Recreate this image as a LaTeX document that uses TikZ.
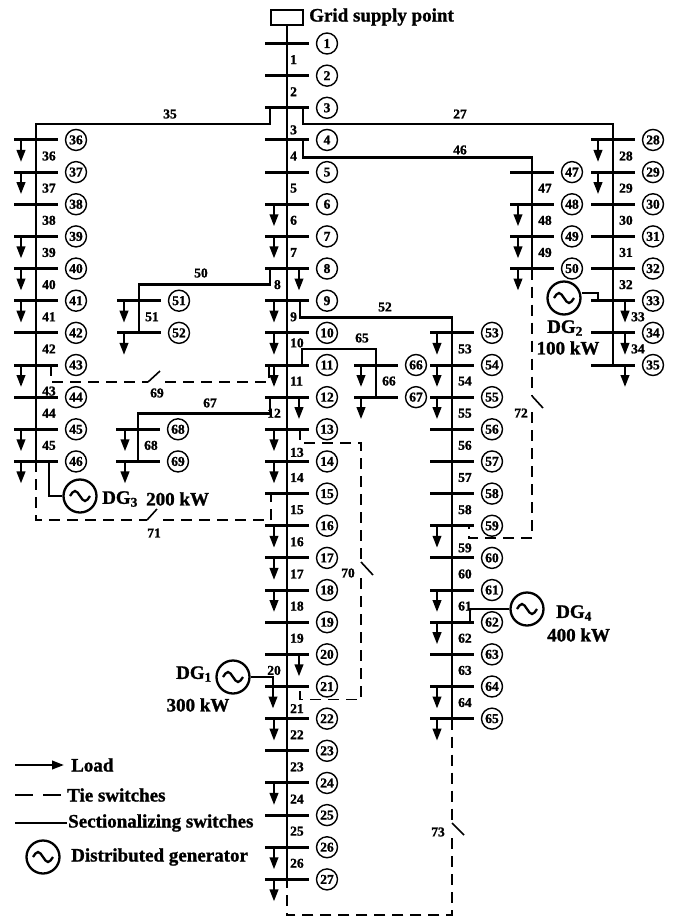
\documentclass[tikz,border=0pt]{standalone}
\usepackage{fontspec}
\setmainfont{Liberation Serif}[BoldFont={Liberation Serif Bold},BoldFeatures={FakeBold=1.2}]
\usetikzlibrary{arrows.meta,calc}

\begin{document}
\begin{tikzpicture}[x=1pt,y=-1pt,
		line/.style={line width=2.8pt},
		bar/.style={line width=3pt},
		tie/.style={line width=1.9pt,dash pattern=on 11pt off 7pt},
		blade/.style={line width=1.6pt},
		load/.style={line width=2.3pt,-{Triangle[length=12pt,width=8.5pt]}},
		busno/.style={circle,draw,line width=1.4pt,minimum size=21pt,inner sep=0pt,font=\fontsize{13.5}{14}\selectfont\bfseries},
		num/.style={inner sep=1pt,font=\fontsize{13.5}{14}\selectfont\bfseries},
		big/.style={inner sep=1pt,font=\fontsize{19}{20}\selectfont\bfseries},
		dg/.style={circle,draw,line width=2.3pt,minimum size=33pt,inner sep=0pt},
		wave/.style={line width=2.3pt}]
	\useasboundingbox (0,0) rectangle (673,919);

	% buses: first/last/x of feeder/row offset
	\foreach \first/\last/\xx/\off in {1/27/287/0,28/35/613/24,36/46/36/32,47/50/532/42,51/52/139/42,53/65/452/43,66/67/376/55,68/69/138/55}
		\foreach \i in {\first,...,\last} {
			\coordinate (b\i) at (\xx,{43.5+(\i-\off-1)*32.15});
			\draw[bar] ([xshift=-22pt]b\i) -- ([xshift=22pt]b\i);
			\node[busno] (n\i) at ([xshift=40pt]b\i) {\i};
		}

	% grid supply point and feeders
	\node[draw,line width=2pt,minimum width=32pt,minimum height=15pt,inner sep=0pt] (gsp) at (287,17.5) {};
	\node[big,anchor=west] (gsptext) at (308,17) {Grid supply point};
	\draw[line] (gsp) -- (b27);
	\draw[line] ([xshift=-17pt]b3) |- ([yshift=16pt]b36) -- (b46);
	\draw[line] ([xshift=16pt]b3) |- ([yshift=16pt]b28) -- (b35);
	\draw[line] ([xshift=16pt]b4) |- ([yshift=15pt]b47) -- (b50);
	\draw[line] ([xshift=-17pt]b8) |- ([yshift=16pt]b51) -- (b52);
	\draw[line] ([xshift=13pt]b9) |- ([yshift=15pt]b53) -- (b65);
	\draw[line] ([xshift=15pt]b11) |- ([yshift=16pt]b66) -- (b67);
	\draw[line] ([xshift=-17pt]b12) |- ([yshift=16pt]b68) -- (b69);

	% loads
	\foreach \i/\dx in {6/-13,7/-13,8/12,9/-13,10/-13,11/-13,12/12,13/-13,14/-13,16/-13,17/-13,18/-13,20/12,21/-14,22/-13,24/-13,26/-13,27/-13,
			28/-15,29/-15,33/12,34/12,35/12,36/-15,37/-15,39/-15,40/-15,41/-15,43/-15,45/-15,46/-15,48/-14,49/-14,50/-14,51/-15,52/-15,
			53/-15,54/-15,55/-15,59/-15,61/-15,62/-15,64/-15,65/-15,66/-15,67/-15,68/-13,69/-13}
		\draw[load] ([xshift=\dx pt]b\i) -- ++(0,22);

	% line numbers
	\foreach \k in {1,2,4,5,6,7,9,11,14,15,16,17,18,19,22,23,24,25,26} {
		\pgfmathtruncatemacro\n{\k+1}
		\node[num,anchor=west] (s\k) at ($(b\k)!.5!(b\n)+(2,0)$) {\k};
	}
	\foreach \k in {8,12,20} {
		\pgfmathtruncatemacro\n{\k+1}
		\node[num,anchor=east] (s\k) at ($(b\k)!.5!(b\n)+(-5,0)$) {\k};
	}
	\foreach \k in {28,29,30,31,32,36,37,38,39,40,41,42,44,45,47,48,49,51,53,54,55,56,57,58,60,61,62,63,64,66,68} {
		\pgfmathtruncatemacro\n{\k+1}
		\node[num,anchor=west] (s\k) at ($(b\k)!.5!(b\n)+(5,0)$) {\k};
	}
	\node[num,anchor=west] (s3) at ($(b3)!.5!(b4)+(2,6)$) {3};
	\node[num,anchor=west] (s10) at ($(b10)!.5!(b11)+(2,-6)$) {10};
	\node[num,anchor=west] (s13) at ($(b13)!.5!(b14)+(2,7)$) {13};
	\node[num,anchor=west] (s21) at ($(b21)!.5!(b22)+(2,6)$) {21};
	\node[num,anchor=west] (s33) at ($(b33)!.5!(b34)+(17,0)$) {33};
	\node[num,anchor=west] (s34) at ($(b34)!.5!(b35)+(17,0)$) {34};
	\node[num,anchor=west] (s43) at ($(b43)!.5!(b44)+(5,10)$) {43};
	\node[num,anchor=west] (s59) at ($(b59)!.5!(b60)+(5,6)$) {59};
	\node[num] (s35) at (170,114) {35};
	\node[num] (s27) at (460,114) {27};
	\node[num] (s46) at (460,150) {46};
	\node[num] (s50) at (201,273) {50};
	\node[num] (s52) at (385,307) {52};
	\node[num] (s65) at (362,338) {65};
	\node[num] (s67) at (210,403) {67};

	% tie switches
	\coordinate (t69a) at (148,382);
	\coordinate (t69b) at (165,382);
	\draw[tie] ([xshift=15pt]b43) |- (t69a);
	\draw[blade] (t69a) -- ++(12,-11);
	\draw[tie] (t69b) -| ([xshift=-18pt]b11);
	\node[num] (s69) at (157,393) {69};

	\coordinate (t70a) at (361,562);
	\coordinate (t70b) at (361,578);
	\draw[tie] ([xshift=13pt]b13) -- ++(0,14) -| (t70a);
	\draw[blade] (t70a) -- ++(12,13);
	\draw[tie] (t70b) |- ([xshift=13pt,yshift=-13pt]b21) -- ([xshift=13pt]b21);
	\node[num] (s70) at (348,573) {70};

	\coordinate (t71a) at (147,520);
	\coordinate (t71b) at (163,520);
	\draw[tie] (b46) |- (t71a);
	\draw[blade] (t71a) -- ++(10,-11);
	\draw[tie] (t71b) -| ([xshift=-16pt]b15);
	\node[num] (s71) at (154,533) {71};

	\coordinate (t72a) at (532,396);
	\coordinate (t72b) at (532,412);
	\draw[tie] (b50) -- (t72a);
	\draw[blade] (t72a) -- ++(11,12);
	\draw[tie] (t72b) |- ([xshift=17pt,yshift=-12pt]b59) -- ([xshift=17pt]b59);
	\node[num] (s72) at (521,413) {72};

	\coordinate (t73a) at (452,823);
	\coordinate (t73b) at (452,838);
	\draw[tie] (b65) -- (t73a);
	\draw[blade] (t73a) -- ++(12,12);
	\draw[tie] (t73b) |- ([yshift=-36pt]b27) -- (b27);
	\node[num] (s73) at (438,832) {73};

	% distributed generators
	\node[dg] (dg1) at (233,677) {};
	\node[dg] (dg2) at (564,298) {};
	\node[dg] (dg3) at (80,496) {};
	\node[dg] (dg4) at (527,609) {};
	\node[dg] (dg0) at (43,857) {};
	\foreach \g in {dg0,dg1,dg2,dg3,dg4}
		\draw[wave] ([xshift=-10pt]\g.center) sin ++(5,-5) cos ++(5,5) sin ++(5,5) cos ++(5,-5);
	\draw[line] (dg1.east) -| ([xshift=-14pt]b21);
	\draw[line] ([yshift=5pt]dg2.east) -| ([xshift=-15pt]b33);
	\draw[line] ([xshift=13pt]b46) |- (dg3.west);
	\draw[line] (dg4.west) -| ([xshift=18pt]b62);
	\node[big,anchor=east] (dg1a) at (213,674) {DG\textsubscript{1}};
	\node[big] (dg1b) at (198,705) {300 kW};
	\node[big] (dg2a) at (565,328) {DG\textsubscript{2}};
	\node[big] (dg2b) at (568,348) {100 kW};
	\node[big,anchor=west] (dg3a) at (101,499) {DG\textsubscript{3}};
	\node[big,anchor=west] (dg3b) at (145,499) {200 kW};
	\node[big,anchor=west] (dg4a) at (555,613) {DG\textsubscript{4}};
	\node[big,anchor=west] (dg4b) at (546,635) {400 kW};

	% legend
	\coordinate (lg1) at (15,765);
	\coordinate (lg2) at (15,795);
	\coordinate (lg3) at (15,823);
	\node[big,anchor=west] (tload) at (70,765) {Load};
	\node[big,anchor=west] (ttie) at (66,795) {Tie switches};
	\node[big,anchor=west] (tsec) at (67,823) {Sectionalizing switches};
	\node[big,anchor=west] (tdg) at (70,857) {Distributed generator};
	\draw[load] (lg1) -- ([xshift=-6pt]tload.west);
	\draw[line width=2pt,dash pattern=on 18pt off 10pt] (lg2) -- (ttie.west);
	\draw[line width=2pt] (lg3) -- (tsec.west);
\end{tikzpicture}
\end{document}
